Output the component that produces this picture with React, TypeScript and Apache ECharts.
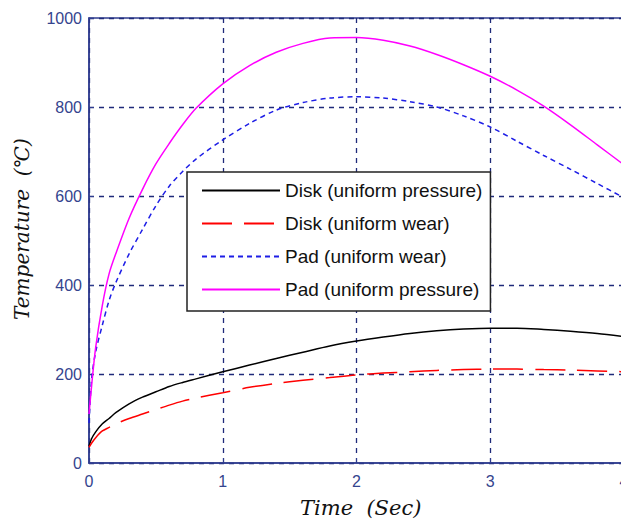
import React, { useEffect, useRef } from "react";
import * as echarts from "echarts";

const times = [0, 0.02, 0.05, 0.1, 0.15, 0.2, 0.3, 0.4, 0.5, 0.6, 0.7, 0.8, 1.0, 1.2, 1.4, 1.6, 1.8, 2.0, 2.2, 2.4, 2.6, 2.8, 3.0, 3.2, 3.4, 3.6, 3.8, 4.0];
const diskUniformPressure = [38, 55, 70, 88, 100, 113, 133, 148, 160, 172, 181, 189, 205, 220, 235, 249, 263, 274, 283, 291, 297, 301, 303, 303, 300, 296, 291, 284];
const diskUniformWear = [35, 45, 57, 72, 80, 88, 100, 110, 120, 130, 139, 146, 158, 170, 179, 186, 192, 198, 202, 205, 208, 210, 211, 211, 210, 209, 207, 205];
const padUniformWear = [90, 190, 250, 310, 365, 405, 470, 525, 578, 622, 655, 683, 726, 763, 793, 810, 820, 823, 820, 812, 800, 780, 755, 723, 691, 660, 628, 596];
const padUniformPressure = [110, 175, 260, 355, 425, 470, 550, 615, 672, 718, 760, 797, 852, 893, 923, 943, 955, 956, 950, 937, 918, 895, 869, 838, 802, 760, 715, 670];
const xTicks = [0, 1, 2, 3, 4];
const yTicks = [0, 200, 400, 600, 800, 1000];

const seriesNames = [
  "Disk (uniform pressure)",
  "Disk (uniform wear)",
  "Pad (uniform wear)",
  "Pad (uniform pressure)",
];

const pairs = (ys: number[]) => times.map((t, i) => [t, ys[i]]);

export default function App() {
  const ref = useRef<HTMLDivElement>(null);
  useEffect(() => {
    const chart = echarts.init(ref.current!, null, { renderer: "svg" });
    const axisColor = "#2f3d8f";
    const gridColor = "#1f2a7a";
    chart.setOption({
      animation: false,
      backgroundColor: "#ffffff",
      grid: {
        left: 89,
        top: 18,
        width: 535,
        height: 445,
        show: true,
        borderColor: axisColor,
        borderWidth: 1.5,
        containLabel: false,
        outerBoundsMode: "none",
      },
      xAxis: {
        type: "value",
        min: 0,
        max: 4,
        interval: 1,
        axisLine: { show: true, lineStyle: { color: axisColor, width: 1.5 } },
        axisTick: { show: true, inside: true, length: 5, lineStyle: { color: axisColor } },
        axisLabel: {
          color: "#34448e",
          fontSize: 16,
          fontFamily: "Liberation Sans, Arial, sans-serif",
          margin: 10,
          showMaxLabel: true,
          formatter: (v: number) => (xTicks.includes(v) ? String(v) : ""),
        },
        splitLine: { show: true, lineStyle: { color: gridColor, type: [5, 5], width: 1.3 } },
      },
      yAxis: {
        type: "value",
        min: 0,
        max: 1000,
        interval: 200,
        axisLine: { show: true, lineStyle: { color: axisColor, width: 1.5 } },
        axisTick: { show: true, inside: true, length: 5, lineStyle: { color: axisColor } },
        axisLabel: {
          color: "#34448e",
          fontSize: 16,
          fontFamily: "Liberation Sans, Arial, sans-serif",
          margin: 7,
          formatter: (v: number) => (yTicks.includes(v) ? String(v) : ""),
        },
        splitLine: { show: true, lineStyle: { color: gridColor, type: [5, 5], width: 1.3 } },
      },
      legend: {
        orient: "vertical",
        left: 187,
        top: 172,
        itemWidth: 78,
        itemHeight: 20,
        itemGap: 14,
        padding: [9, 8, 12, 14],
        backgroundColor: "#ffffff",
        borderColor: "#222222",
        borderWidth: 1.5,
        borderRadius: 0,
        data: seriesNames,
        itemStyle: { opacity: 0 },
        textStyle: {
          fontSize: 19,
          color: "#111111",
          fontFamily: "Liberation Sans, Arial, sans-serif",
        },
      },
      graphic: [
        {
          type: "text",
          left: 300,
          top: 497,
          style: {
            text: "Time  (Sec)",
            font: "italic 21px 'DejaVu Serif', serif",
            fill: "#111111",
          },
        },
        {
          type: "text",
          x: 22,
          y: 320,
          rotation: Math.PI / 2,
          style: {
            text: "Temperature  (\u2103)",
            font: "italic 20px 'DejaVu Serif', serif",
            fill: "#111111",
            textVerticalAlign: "middle",
          },
        },
      ],
      series: [
        {
          name: seriesNames[0],
          type: "line",
          data: pairs(diskUniformPressure),
          showSymbol: false,
          symbol: "none",
          smooth: 0.3,
          lineStyle: { color: "#000000", width: 1.5 },
          itemStyle: { color: "#000000" },
          z: 3,
        },
        {
          name: seriesNames[1],
          type: "line",
          data: pairs(diskUniformWear),
          showSymbol: false,
          symbol: "none",
          smooth: 0.3,
          lineStyle: { color: "#ff0000", width: 1.5, type: [30, 12] },
          itemStyle: { color: "#ff0000" },
          z: 3,
        },
        {
          name: seriesNames[2],
          type: "line",
          data: pairs(padUniformWear),
          showSymbol: false,
          symbol: "none",
          smooth: 0.3,
          lineStyle: { color: "#1e1ee6", width: 1.5, type: [5, 4] },
          itemStyle: { color: "#1e1ee6" },
          z: 3,
        },
        {
          name: seriesNames[3],
          type: "line",
          data: pairs(padUniformPressure),
          showSymbol: false,
          symbol: "none",
          smooth: 0.3,
          lineStyle: { color: "#ff00ff", width: 1.5 },
          itemStyle: { color: "#ff00ff" },
          z: 3,
        },
      ],
    });
    return () => chart.dispose();
  }, []);
  return (
    <div
      ref={ref}
      style={{ position: "absolute", left: 0, top: 0, width: 621, height: 519 }}
    />
  );
}
